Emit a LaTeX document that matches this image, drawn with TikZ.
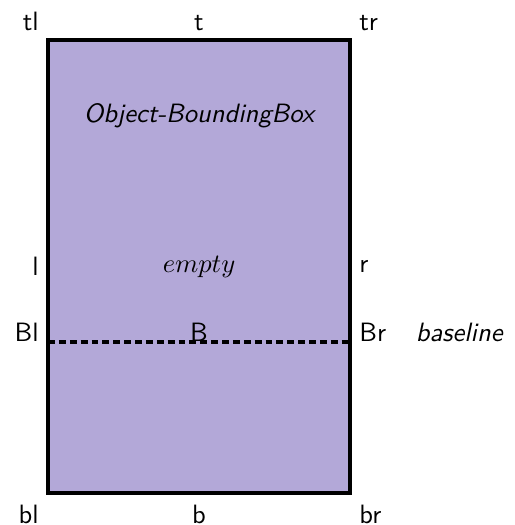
\documentclass[tikz,border=0pt]{standalone}
\definecolor{boxfill}{RGB}{179,168,216}
\tikzset{
  anchorlabel/.style={font=\sffamily},
  baseline dash/.style={line width=1.3pt,dash pattern=on 2.6pt off 1.5pt},
}
\begin{document}
\begin{tikzpicture}
  \useasboundingbox (-0.637,-0.425) rectangle (6.175,6.531);
  \coordinate (bl) at (0,0);
  \coordinate (tr) at (4,6);
  \coordinate (Bl) at (0,2);
  \coordinate (Br) at (4,2);
  \filldraw[fill=boxfill,line width=1.3pt] (bl) rectangle (tr);
  \draw[baseline dash] (Bl) -- (Br);
  % anchor names round the box
  \node[anchorlabel,above left] (tl-lab) at (0,6) {tl};
  \node[anchorlabel,above] (t-lab) at (2,6) {t};
  \node[anchorlabel,above right] (tr-lab) at (4,6) {tr};
  \node[anchorlabel,left] (l-lab) at (0,3) {l};
  \node[anchorlabel,right] (r-lab) at (4,3) {r};
  \node[anchorlabel,anchor=base east] (Bl-lab) at (Bl) {Bl};
  \node[anchorlabel,anchor=base] (B-lab) at (2,2) {B};
  \node[anchorlabel,anchor=base west] (Br-lab) at (Br) {Br};
  \node[anchorlabel,below left,yshift=-1pt] (bl-lab) at (bl) {bl};
  \node[anchorlabel,below,yshift=-1pt] (b-lab) at (2,0) {b};
  \node[anchorlabel,below right,yshift=-1pt] (br-lab) at (4,0) {br};
  % texts inside
  \node[font=\sffamily\itshape] (title) at (2,5) {Object-BoundingBox};
  \node (empty) at (2,3) {$empty$};
  \node[font=\sffamily\itshape,anchor=base west] (base-lab) at (4.75,2) {baseline};
\end{tikzpicture}
\end{document}
